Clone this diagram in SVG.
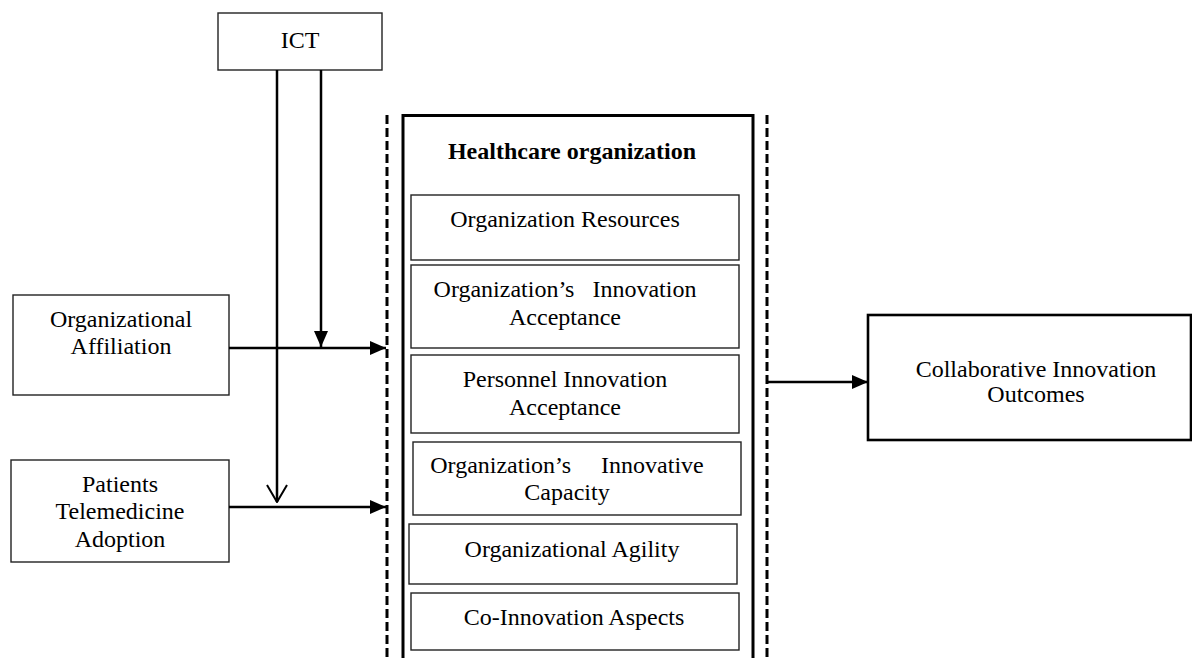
<svg xmlns="http://www.w3.org/2000/svg" width="1192" height="658" viewBox="0 0 1192 658">
<style>
text{font-family:"Liberation Serif","Times New Roman",serif;font-size:24px;fill:#000;text-anchor:middle}
.b{font-weight:bold}
.box{fill:#fff;stroke:#222;stroke-width:1.4}
.thick{fill:none;stroke:#000;stroke-width:3}
.dash{fill:none;stroke:#000;stroke-width:3;stroke-dasharray:9 4}
.ln{fill:none;stroke:#000;stroke-width:2.5}
</style>
<defs>
<marker id="fa" markerWidth="16" markerHeight="14" viewBox="0 0 16 14" refX="16" refY="7" orient="auto" markerUnits="userSpaceOnUse">
<path d="M0,0 L16,7 L0,14 Z" fill="#000"/>
</marker>
<marker id="oa" markerWidth="20" markerHeight="24" viewBox="0 0 20 24" refX="19" refY="12" orient="auto" markerUnits="userSpaceOnUse">
<path d="M2,2 L19,12 L2,22" fill="none" stroke="#000" stroke-width="2"/>
</marker>
</defs>

<g id="ict"><rect class="box" x="218" y="13" width="164" height="57"/><text x="300" y="48">ICT</text></g>
<g id="affiliation"><rect class="box" x="13" y="295" width="216" height="100"/><text x="121" y="327">Organizational</text><text x="121" y="354">Affiliation</text></g>
<g id="patients"><rect class="box" x="11" y="460" width="218" height="102"/><text x="120" y="492">Patients</text><text x="120" y="519">Telemedicine</text><text x="120" y="547">Adoption</text></g>

<g id="boundary"><line class="dash" x1="387" y1="115" x2="387" y2="658"/><line class="dash" x1="767" y1="115" x2="767" y2="658"/></g>

<g id="healthcare">
<path class="thick" d="M403,658 V115.5 H753 V658"/>
<text class="b" x="572" y="159">Healthcare organization</text>
<g id="resources"><rect class="box" x="411" y="195" width="328" height="65"/><text x="565" y="227">Organization Resources</text></g>
<g id="org-acceptance"><rect class="box" x="411" y="265" width="328" height="83"/><text x="565" y="297" word-spacing="12">Organization’s Innovation</text><text x="565" y="325">Acceptance</text></g>
<g id="personnel"><rect class="box" x="411" y="355" width="328" height="78"/><text x="565" y="387">Personnel Innovation</text><text x="565" y="415">Acceptance</text></g>
<g id="capacity"><rect class="box" x="413" y="442" width="328" height="73"/><text x="567" y="473" word-spacing="24">Organization’s Innovative</text><text x="567" y="500">Capacity</text></g>
<g id="agility"><rect class="box" x="409" y="524" width="328" height="60"/><text x="572" y="557">Organizational Agility</text></g>
<g id="coinnovation"><rect class="box" x="411" y="593" width="328" height="57"/><text x="574" y="625">Co-Innovation Aspects</text></g>
</g>

<g id="outcomes"><rect x="868" y="315" width="323" height="125" fill="#fff" stroke="#000" stroke-width="2.6"/><text x="1036" y="377">Collaborative Innovation</text><text x="1036" y="402">Outcomes</text></g>

<g id="connectors">
<line class="ln" x1="229" y1="348" x2="386" y2="348" marker-end="url(#fa)"/>
<line class="ln" x1="229" y1="507" x2="386" y2="507" marker-end="url(#fa)"/>
<line class="ln" x1="321" y1="70" x2="321" y2="347" marker-end="url(#fa)"/>
<line class="ln" x1="277" y1="70" x2="277" y2="502" marker-end="url(#oa)"/>
<line class="ln" x1="767" y1="382" x2="868" y2="382" marker-end="url(#fa)"/>
</g>
</svg>
